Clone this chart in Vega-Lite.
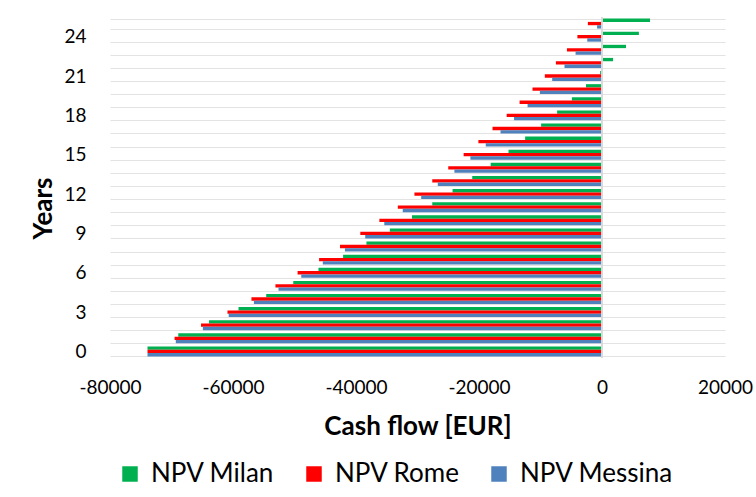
{
  "$schema": "https://vega.github.io/schema/vega-lite/v6.json",
  "width": 615,
  "height": 341,
  "autosize": {"type": "none"},
  "padding": {"left": 110, "top": 17, "right": 31, "bottom": 139},
  "background": "white",
  "config": {"font": "Lato", "view": {"stroke": null}},
  "data": {
    "values": [
      {"year": 0, "series": "NPV Milan", "value": -73900},
      {"year": 0, "series": "NPV Rome", "value": -73900},
      {"year": 0, "series": "NPV Messina", "value": -73900},
      {"year": 1, "series": "NPV Milan", "value": -68900},
      {"year": 1, "series": "NPV Rome", "value": -69500},
      {"year": 1, "series": "NPV Messina", "value": -69300},
      {"year": 2, "series": "NPV Milan", "value": -63900},
      {"year": 2, "series": "NPV Rome", "value": -65200},
      {"year": 2, "series": "NPV Messina", "value": -64900},
      {"year": 3, "series": "NPV Milan", "value": -59100},
      {"year": 3, "series": "NPV Rome", "value": -60900},
      {"year": 3, "series": "NPV Messina", "value": -60700},
      {"year": 4, "series": "NPV Milan", "value": -54600},
      {"year": 4, "series": "NPV Rome", "value": -57000},
      {"year": 4, "series": "NPV Messina", "value": -56600},
      {"year": 5, "series": "NPV Milan", "value": -50200},
      {"year": 5, "series": "NPV Rome", "value": -53100},
      {"year": 5, "series": "NPV Messina", "value": -52600},
      {"year": 6, "series": "NPV Milan", "value": -46100},
      {"year": 6, "series": "NPV Rome", "value": -49500},
      {"year": 6, "series": "NPV Messina", "value": -48900},
      {"year": 7, "series": "NPV Milan", "value": -42100},
      {"year": 7, "series": "NPV Rome", "value": -46000},
      {"year": 7, "series": "NPV Messina", "value": -45400},
      {"year": 8, "series": "NPV Milan", "value": -38300},
      {"year": 8, "series": "NPV Rome", "value": -42600},
      {"year": 8, "series": "NPV Messina", "value": -41800},
      {"year": 9, "series": "NPV Milan", "value": -34500},
      {"year": 9, "series": "NPV Rome", "value": -39300},
      {"year": 9, "series": "NPV Messina", "value": -38500},
      {"year": 10, "series": "NPV Milan", "value": -30900},
      {"year": 10, "series": "NPV Rome", "value": -36200},
      {"year": 10, "series": "NPV Messina", "value": -35400},
      {"year": 11, "series": "NPV Milan", "value": -27600},
      {"year": 11, "series": "NPV Rome", "value": -33200},
      {"year": 11, "series": "NPV Messina", "value": -32400},
      {"year": 12, "series": "NPV Milan", "value": -24300},
      {"year": 12, "series": "NPV Rome", "value": -30500},
      {"year": 12, "series": "NPV Messina", "value": -29400},
      {"year": 13, "series": "NPV Milan", "value": -21100},
      {"year": 13, "series": "NPV Rome", "value": -27600},
      {"year": 13, "series": "NPV Messina", "value": -26700},
      {"year": 14, "series": "NPV Milan", "value": -18100},
      {"year": 14, "series": "NPV Rome", "value": -25000},
      {"year": 14, "series": "NPV Messina", "value": -24000},
      {"year": 15, "series": "NPV Milan", "value": -15200},
      {"year": 15, "series": "NPV Rome", "value": -22500},
      {"year": 15, "series": "NPV Messina", "value": -21400},
      {"year": 16, "series": "NPV Milan", "value": -12500},
      {"year": 16, "series": "NPV Rome", "value": -20100},
      {"year": 16, "series": "NPV Messina", "value": -18900},
      {"year": 17, "series": "NPV Milan", "value": -9900},
      {"year": 17, "series": "NPV Rome", "value": -17800},
      {"year": 17, "series": "NPV Messina", "value": -16500},
      {"year": 18, "series": "NPV Milan", "value": -7300},
      {"year": 18, "series": "NPV Rome", "value": -15500},
      {"year": 18, "series": "NPV Messina", "value": -14300},
      {"year": 19, "series": "NPV Milan", "value": -4900},
      {"year": 19, "series": "NPV Rome", "value": -13400},
      {"year": 19, "series": "NPV Messina", "value": -12100},
      {"year": 20, "series": "NPV Milan", "value": -2600},
      {"year": 20, "series": "NPV Rome", "value": -11300},
      {"year": 20, "series": "NPV Messina", "value": -10100},
      {"year": 21, "series": "NPV Milan", "value": -300},
      {"year": 21, "series": "NPV Rome", "value": -9300},
      {"year": 21, "series": "NPV Messina", "value": -8100},
      {"year": 22, "series": "NPV Milan", "value": 1800},
      {"year": 22, "series": "NPV Rome", "value": -7500},
      {"year": 22, "series": "NPV Messina", "value": -6100},
      {"year": 23, "series": "NPV Milan", "value": 3900},
      {"year": 23, "series": "NPV Rome", "value": -5700},
      {"year": 23, "series": "NPV Messina", "value": -4300},
      {"year": 24, "series": "NPV Milan", "value": 6000},
      {"year": 24, "series": "NPV Rome", "value": -4000},
      {"year": 24, "series": "NPV Messina", "value": -2400},
      {"year": 25, "series": "NPV Milan", "value": 7800},
      {"year": 25, "series": "NPV Rome", "value": -2300},
      {"year": 25, "series": "NPV Messina", "value": -800}
    ]
  },
  "layer": [
    {
      "mark": {"type": "bar"},
      "encoding": {
        "y": {
          "field": "year",
          "type": "ordinal",
          "sort": "descending",
          "scale": {"paddingInner": 0.24, "paddingOuter": 0.12},
          "axis": {
            "title": "Years",
            "titleFontSize": 26,
            "titleFontWeight": "bold",
            "titleColor": "#000000",
            "titlePadding": 7,
            "titleY": 191,
            "labelFontSize": 19,
            "labelColor": "#000000",
            "labelPadding": 24,
            "labelAngle": 0,
            "labelExpr": "datum.value % 3 == 0 ? datum.label : ''",
            "domain": false,
            "ticks": false,
            "grid": true,
            "tickBand": "extent",
            "gridColor": "#E3E3E3",
            "gridWidth": 1
          }
        },
        "yOffset": {
          "field": "series",
          "sort": ["NPV Milan", "NPV Rome", "NPV Messina"],
          "scale": {"paddingInner": 0, "paddingOuter": 0}
        },
        "x": {
          "field": "value",
          "type": "quantitative",
          "scale": {"domain": [-80000, 20000], "nice": false},
          "axis": {
            "title": "Cash flow [EUR]",
            "titleFontSize": 26,
            "titleFontWeight": "bold",
            "titleColor": "#000000",
            "titlePadding": 16,
            "values": [-80000, -60000, -40000, -20000, 0, 20000],
            "labelExpr": "datum.value < 0 ? '-' + abs(datum.value) : '' + datum.value",
            "labelFontSize": 19,
            "labelColor": "#000000",
            "labelPadding": 20,
            "labelFlush": false,
            "grid": false,
            "domain": false,
            "ticks": false
          }
        },
        "color": {
          "field": "series",
          "type": "nominal",
          "sort": ["NPV Milan", "NPV Rome", "NPV Messina"],
          "scale": {
            "domain": ["NPV Milan", "NPV Rome", "NPV Messina"],
            "range": ["#00B050", "#FF0000", "#4F81BD"]
          },
          "legend": {
            "orient": "bottom",
            "direction": "horizontal",
            "title": null,
            "labelFontSize": 26,
            "labelColor": "#000000",
            "labelOffset": 8,
            "symbolType": "square",
            "symbolSize": 240,
            "symbolStrokeWidth": 0,
            "columnPadding": 26,
            "padding": 7,
            "offset": 15
          }
        }
      }
    },
    {
      "mark": {"type": "rule", "color": "#D9D9D9", "strokeWidth": 1},
      "encoding": {"x": {"datum": 0}}
    }
  ]
}
